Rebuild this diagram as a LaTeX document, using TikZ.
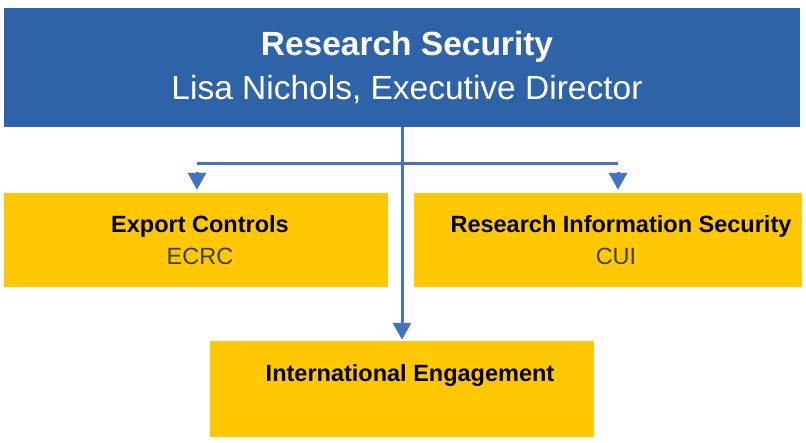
\documentclass[tikz,border=0pt]{standalone}
\usepackage{fontspec}
\setmainfont{Liberation Sans}
\usetikzlibrary{arrows.meta}
\definecolor{headblue}{RGB}{47,99,167}
\definecolor{linkblue}{RGB}{68,114,196}
\definecolor{unitgold}{RGB}{255,200,3}
\definecolor{subgray}{RGB}{64,64,64}
\tikzset{
    headbox/.style={fill=headblue, text=white, inner sep=0pt, align=center,
        font=\fontsize{33.5}{44}\selectfont},
    unitbox/.style={fill=unitgold, inner sep=0pt, align=center,
        font=\fontsize{23.5}{32}\selectfont},
    link/.style={draw=linkblue, line width=3pt},
    linkarrow/.style={link, -{Triangle[width=18pt,length=17pt]}}
}
% push a centred line to the right by half the given amount
\newcommand{\pushright}[1]{\hspace*{#1}}
\begin{document}
\begin{tikzpicture}[x=1pt,y=-1pt]
    \useasboundingbox (0,0) rectangle (806,442);

    % Head box
    \node[headbox, minimum width=796pt, minimum height=119pt] (head) at (402,67.5)
        {\pushright{10pt}\textbf{Research Security}\\\pushright{10pt}Lisa Nichols, Executive Director};

    % Units
    \node[unitbox, minimum width=384pt, minimum height=94pt] (export) at (196,240)
        {\pushright{8pt}\textbf{Export Controls}\\\pushright{8pt}\textcolor{subgray}{ECRC}};
    \node[unitbox, minimum width=388pt, minimum height=94pt] (infosec) at (608,240)
        {\pushright{26pt}\textbf{Research Information Security}\\\pushright{16pt}\textcolor{subgray}{CUI}};
    \node[unitbox, minimum width=384pt, minimum height=96pt] (intl) at (402,389)
        {\pushright{16pt}\textbf{International Engagement}\\~};

    % Branch line
    \coordinate (lbranch) at (197,163);
    \coordinate (rbranch) at (618,163);
    \coordinate (ltip) at (197,172);
    \coordinate (rtip) at (618,172);
    \draw[link] (lbranch) -- (rbranch);
    \draw[linkarrow, shorten >=3pt] (ltip) -- (ltip |- export.north);
    \draw[linkarrow, shorten >=3pt] (rtip) -- (rtip |- infosec.north);

    % Trunk
    \draw[linkarrow, shorten >=1pt] (head.south) -- (intl.north);
\end{tikzpicture}
\end{document}
